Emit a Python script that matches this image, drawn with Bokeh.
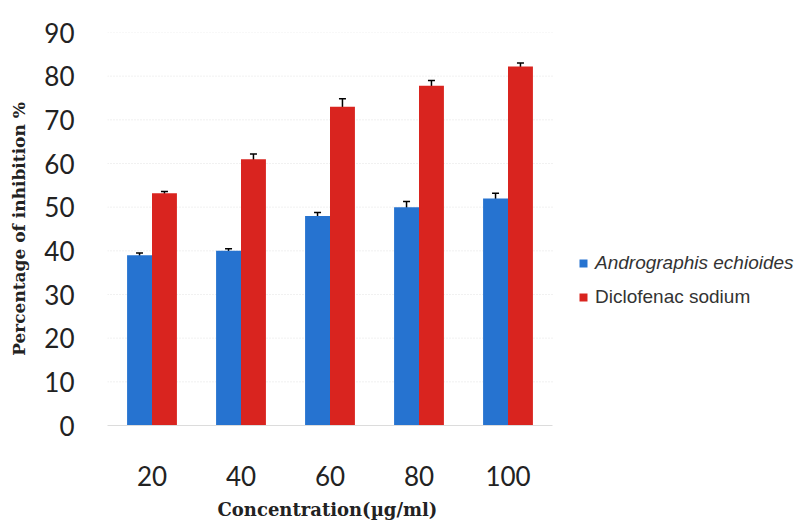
from bokeh.plotting import figure
from bokeh.models import (ColumnDataSource, Range1d, Whisker, TeeHead, Legend, LegendItem,
                          FixedTicker, Title)
from bokeh.transform import dodge
from bokeh.embed import file_html
from bokeh.resources import INLINE

concentrations = ["20", "40", "60", "80", "100"]
andrographis = [39, 40, 48, 50, 52]
andrographis_err = [0.5, 0.5, 0.8, 1.3, 1.2]
diclofenac = [53.2, 61, 73, 77.8, 82.2]
diclofenac_err = [0.4, 1.2, 1.8, 1.2, 0.8]
y_ticks = [0, 10, 20, 30, 40, 50, 60, 70, 80, 90]

pos = list(range(len(concentrations)))
src = ColumnDataSource(dict(
    x=pos,
    a=andrographis,
    a_lo=[v - e for v, e in zip(andrographis, andrographis_err)],
    a_hi=[v + e for v, e in zip(andrographis, andrographis_err)],
    d=diclofenac,
    d_lo=[v - e for v, e in zip(diclofenac, diclofenac_err)],
    d_hi=[v + e for v, e in zip(diclofenac, diclofenac_err)],
))

W, H = 798, 531
left, top, bottom = 107, 32, 106
unit_px = 89.0
frame_w = W - left
p = figure(width=W, height=H, x_range=Range1d(-0.5, -0.5 + frame_w / unit_px),
           y_range=Range1d(0, 90), output_backend="svg", toolbar_location=None)
p.min_border_left = left
p.min_border_right = 0
p.min_border_top = top
p.min_border_bottom = bottom
p.outline_line_color = None
p.background_fill_color = "white"

blue = "#2673d0"
red = "#d9241f"
w = 0.28
r1 = p.vbar(x=dodge("x", -0.14), top="a", width=w, source=src, fill_color=blue, line_color=None)
r2 = p.vbar(x=dodge("x", 0.14), top="d", width=w, source=src, fill_color=red, line_color=None)

# horizontal gridlines limited to the category span
p.segment(x0=[-0.5] * (len(y_ticks) - 1), x1=[len(pos) - 0.5] * (len(y_ticks) - 1),
          y0=y_ticks[1:], y1=y_ticks[1:], line_color="#e2e2e2", line_width=1, line_dash="1 2",
          level="underlay")

for key, off in (("a", -0.14), ("d", 0.14)):
    wk = Whisker(base=dodge("x", off), lower=key + "_lo", upper=key + "_hi",
                 source=src, line_color="black", line_width=1.5,
                 upper_head=TeeHead(size=7, line_color="black", line_width=1.5),
                 lower_head=TeeHead(size=7, line_color="black", line_width=1.5))
    p.add_layout(wk)

p.yaxis.ticker = FixedTicker(ticks=y_ticks)
p.yaxis.axis_line_color = None
p.yaxis.major_tick_line_color = None
p.yaxis.minor_tick_line_color = None
p.yaxis.major_label_text_font = "Lato"
p.yaxis.major_label_text_font_size = "26px"
p.yaxis.major_label_text_color = "#222222"
p.yaxis.major_label_standoff = 27
p.yaxis.axis_label = "Percentage of inhibition %"
p.yaxis.axis_label_text_font = "DejaVu Serif"
p.yaxis.axis_label_text_font_style = "bold"
p.yaxis.axis_label_text_font_size = "17px"
p.yaxis.axis_label_text_color = "#222222"
p.yaxis.axis_label_standoff = 12

p.xaxis.ticker = FixedTicker(ticks=pos)
p.xaxis.major_label_overrides = {i: c for i, c in zip(pos, concentrations)}
p.xaxis.bounds = (-0.5, len(pos) - 0.5)
p.xaxis.axis_line_color = "#dcdcdc"
p.xaxis.major_tick_line_color = None
p.xaxis.minor_tick_line_color = None
p.xaxis.major_label_text_font = "Lato"
p.xaxis.major_label_text_font_size = "26px"
p.xaxis.major_label_text_color = "#222222"
p.xaxis.major_label_standoff = 34

xlabel = Title(text="Concentration(µg/ml)", align="left", offset=110, standoff=16,
               text_font="DejaVu Serif", text_font_style="bold", text_font_size="18px",
               text_color="#222222")
p.add_layout(xlabel, "below")

p.xgrid.grid_line_color = None
p.ygrid.grid_line_color = None

common = dict(border_line_color=None, background_fill_alpha=0, glyph_width=10, glyph_height=10,
              label_text_font="Liberation Sans", label_text_font_size="19px",
              label_text_color="#333333", label_standoff=7, padding=0, margin=0,
              label_height=22, label_text_line_height=1.0)
legend1 = Legend(items=[LegendItem(label="Andrographis echioides", renderers=[r1])],
                 location=(471, 151), label_text_font_style="italic", **common)
legend2 = Legend(items=[LegendItem(label="Diclofenac sodium", renderers=[r2])],
                 location=(471, 117), **common)
p.add_layout(legend1, "center")
p.add_layout(legend2, "center")

html = file_html(p, INLINE)
open("out.html", "w").write(html)
